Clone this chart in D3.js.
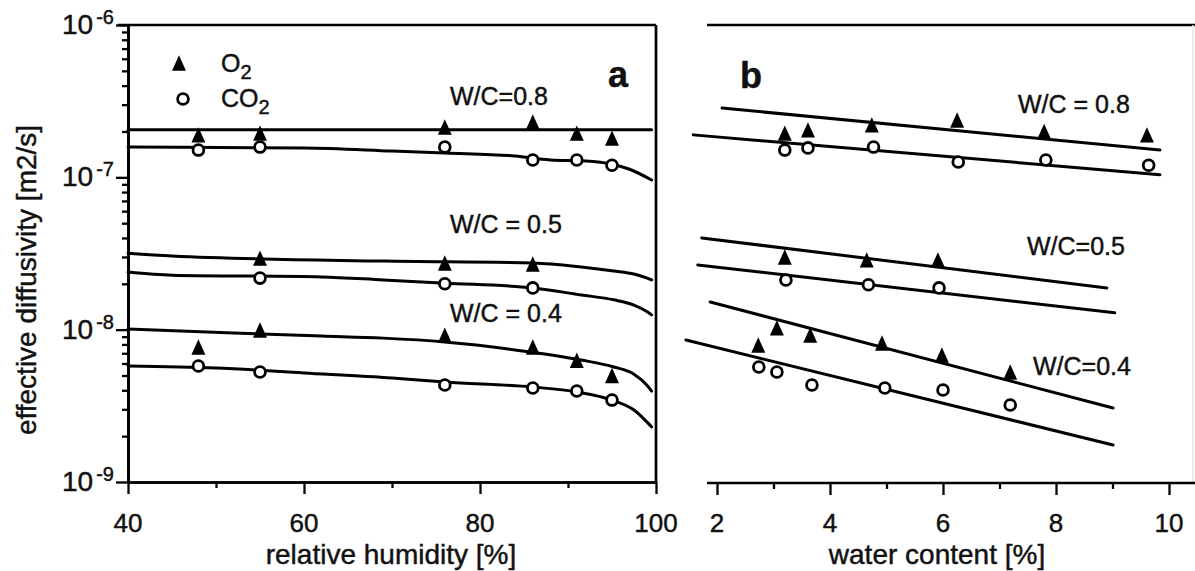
<!DOCTYPE html>
<html>
<head>
<meta charset="utf-8">
<script src="https://cdn.jsdelivr.net/npm/d3@7"></script>
<style>
  html, body { margin: 0; padding: 0; background: #fff; }
  svg { display: block; font-family: "Liberation Sans", Arial, Helvetica, sans-serif; }
  svg text { fill: #111; stroke: #111; stroke-width: 0.45px; }
</style>
</head>
<body>
<svg id="chart" width="1195" height="571"></svg>
<script>
// ---- Panel a: effective diffusivity vs relative humidity [%] ----
const rhTicksMajor = [40, 60, 80, 100];
const rhTicksMinor = [50, 70, 90];
const diffExponents = [-6, -7, -8, -9];

// measured points, panel a
const rhO2_08  = [48, 55, 76, 86, 91, 95];
const dO2_08   = [1.90e-7, 1.95e-7, 2.14e-7, 2.31e-7, 1.95e-7, 1.81e-7];
const rhCO2_08 = [48, 55, 76, 86, 91, 95];
const dCO2_08  = [1.51e-7, 1.58e-7, 1.58e-7, 1.30e-7, 1.30e-7, 1.20e-7];
const rhO2_05  = [55, 76, 86];
const dO2_05   = [2.95e-8, 2.74e-8, 2.70e-8];
const rhCO2_05 = [55, 76, 86];
const dCO2_05  = [2.18e-8, 2.00e-8, 1.88e-8];
const rhO2_04  = [48, 55, 76, 86, 91, 95];
const dO2_04   = [7.7e-9, 9.95e-9, 9.2e-9, 7.7e-9, 6.3e-9, 5.0e-9];
const rhCO2_04 = [48, 55, 76, 86, 91, 95];
const dCO2_04  = [5.77e-9, 5.27e-9, 4.33e-9, 4.14e-9, 3.96e-9, 3.45e-9];

// model curves, panel a
const fitRhO2_08  = [40, 99.5];
const fitDO2_08   = [2.05e-7, 2.05e-7];
const fitRhCO2_08 = [40, 60, 70, 76, 84, 88, 92, 95, 97, 99.5];
const fitDCO2_08  = [1.58e-7, 1.56e-7, 1.49e-7, 1.445e-7, 1.38e-7, 1.30e-7, 1.28e-7, 1.22e-7, 1.13e-7, 9.6e-8];
const fitRhO2_05  = [40, 45, 69, 86, 91.5, 95.2, 97.5, 99, 99.5];
const fitDO2_05   = [3.18e-8, 3.05e-8, 2.82e-8, 2.74e-8, 2.58e-8, 2.43e-8, 2.32e-8, 2.18e-8, 2.12e-8];
const fitRhCO2_05 = [40, 45, 62, 69, 76, 86, 91.5, 95.2, 97.5, 99, 99.5];
const fitDCO2_05  = [2.39e-8, 2.28e-8, 2.22e-8, 2.12e-8, 2.02e-8, 1.88e-8, 1.69e-8, 1.57e-8, 1.45e-8, 1.31e-8, 1.25e-8];
const fitRhO2_04  = [40, 52, 62, 69, 76, 86, 91.5, 95.2, 97.5, 99, 99.5];
const fitDO2_04   = [1.01e-8, 9.5e-9, 9.08e-9, 8.8e-9, 8.3e-9, 7.1e-9, 6.32e-9, 5.69e-9, 5.1e-9, 4.3e-9, 3.95e-9];
const fitRhCO2_04 = [40, 50, 60, 70, 76, 86, 91, 95, 97.5, 99.5];
const fitDCO2_04  = [5.77e-9, 5.6e-9, 5.2e-9, 4.82e-9, 4.53e-9, 4.2e-9, 3.9e-9, 3.45e-9, 2.97e-9, 2.3e-9];

// ---- Panel b: effective diffusivity vs water content [%] ----
const wcTicksMajor = [2, 4, 6, 8, 10];
const wcTicksMinor = [3, 5, 7, 9];

const wcO2_08  = [3.20, 3.61, 4.74, 6.25, 7.79, 9.61];
const bO2_08   = [1.95e-7, 2.05e-7, 2.21e-7, 2.38e-7, 2.00e-7, 1.90e-7];
const wcCO2_08 = [3.20, 3.61, 4.77, 6.27, 7.82, 9.64];
const bCO2_08  = [1.51e-7, 1.56e-7, 1.58e-7, 1.26e-7, 1.30e-7, 1.20e-7];
const wcO2_05  = [3.20, 4.65, 5.91];
const bO2_05   = [3.0e-8, 2.87e-8, 2.87e-8];
const wcCO2_05 = [3.22, 4.68, 5.93];
const bCO2_05  = [2.12e-8, 1.97e-8, 1.88e-8];
const wcO2_04  = [2.73, 3.06, 3.65, 4.92, 5.98, 7.19];
const bO2_04   = [7.93e-9, 1.03e-8, 9.23e-9, 8.17e-9, 6.82e-9, 5.27e-9];
const wcCO2_04 = [2.74, 3.06, 3.68, 4.97, 6.00, 7.19];
const bCO2_04  = [5.69e-9, 5.27e-9, 4.33e-9, 4.14e-9, 4.02e-9, 3.2e-9];

// regression lines, panel b
const fitWcO2_08  = [2.09, 9.84];
const fitBO2_08   = [2.85e-7, 1.51e-7];
const fitWcCO2_08 = [1.58, 9.84];
const fitBCO2_08  = [1.90e-7, 1.04e-7];
const fitWcO2_05  = [1.73, 8.90];
const fitBO2_05   = [4.0e-8, 1.88e-8];
const fitWcCO2_05 = [1.66, 9.04];
const fitBCO2_05  = [2.66e-8, 1.29e-8];
const fitWcO2_04  = [1.88, 9.01];
const fitBO2_04   = [1.52e-8, 3.06e-9];
const fitWcCO2_04 = [1.45, 9.01];
const fitBCO2_04  = [8.55e-9, 1.75e-9];

// ---- drawing ----
const svg = d3.select("#chart");
const zip = (xs, ys) => xs.map((x, i) => [x, ys[i]]);

const yTop = 25, yBot = 482;
const y = d3.scaleLog().domain([1e-9, 1e-6]).range([yBot, yTop]);
const xa = d3.scaleLinear().domain([40, 100]).range([128, 656]);
const xb = d3.scaleLinear().domain([2, 10]).range([717, 1169]);

// filled isosceles triangle marker
const triangleMark = {
  draw(ctx, size) {
    const w = Math.sqrt(size) * 0.95, h = Math.sqrt(size) * 1.05;
    ctx.moveTo(0, -h / 2);
    ctx.lineTo(w / 2, h / 2);
    ctx.lineTo(-w / 2, h / 2);
    ctx.closePath();
  }
};
const triPath = d3.symbol().type(triangleMark).size(215)();

const axisStroke = 2.7;

function styleAxis(g) {
  g.select(".domain").attr("stroke", "#000").attr("stroke-width", axisStroke);
  g.selectAll(".tick line").attr("stroke", "#000").attr("stroke-width", 2.3);
}

// panel a frame
const gA = svg.append("g");
gA.append("line").attr("x1", 118).attr("x2", 656).attr("y1", yTop).attr("y2", yTop)
  .attr("stroke", "#000").attr("stroke-width", axisStroke);
gA.append("line").attr("x1", 656).attr("x2", 656).attr("y1", yTop).attr("y2", yBot)
  .attr("stroke", "#000").attr("stroke-width", axisStroke);

// y axis of panel a: minor and major log ticks
const minorY = [];
[-9, -8, -7].forEach(e => { for (let k = 2; k <= 9; k++) minorY.push(k * Math.pow(10, e)); });
gA.append("g").attr("transform", "translate(128,0)")
  .call(d3.axisLeft(y).tickValues(minorY).tickSize(6).tickSizeOuter(0).tickFormat(""))
  .call(styleAxis);
gA.append("g").attr("transform", "translate(128,0)")
  .call(d3.axisLeft(y).tickValues(diffExponents.map(e => Math.pow(10, e))).tickSize(12).tickSizeOuter(0).tickFormat(""))
  .call(styleAxis);

diffExponents.forEach(e => {
  const t = gA.append("text").attr("x", 114).attr("y", y(Math.pow(10, e)) + 9)
    .attr("text-anchor", "end").attr("font-size", 28);
  t.append("tspan").text("10");
  t.append("tspan").attr("dx", 3).attr("dy", -10).attr("font-size", 20).text("-" + Math.abs(e));
});

// x axis of panel a
gA.append("g").attr("transform", `translate(0,${yBot})`)
  .call(d3.axisBottom(xa).tickValues(rhTicksMinor).tickSize(6).tickSizeOuter(0).tickFormat(""))
  .call(styleAxis);
gA.append("g").attr("transform", `translate(0,${yBot})`)
  .call(d3.axisBottom(xa).tickValues(rhTicksMajor).tickSize(12).tickSizeOuter(0).tickFormat(""))
  .call(styleAxis);
rhTicksMajor.forEach(v => {
  gA.append("text").attr("x", xa(v)).attr("y", 532).attr("text-anchor", "middle")
    .attr("font-size", 26).text(v);
});
gA.append("text").attr("x", 391).attr("y", 564).attr("text-anchor", "middle")
  .attr("font-size", 28).text("relative humidity [%]");

// y-axis title
svg.append("text").attr("transform", "translate(36,280) rotate(-90)")
  .attr("text-anchor", "middle").attr("font-size", 28).text("effective diffusivity [m2/s]");

// panel b frame
const gB = svg.append("g");
gB.append("line").attr("x1", 707).attr("x2", 1195).attr("y1", yTop).attr("y2", yTop)
  .attr("stroke", "#000").attr("stroke-width", axisStroke);
gB.append("line").attr("x1", 1193).attr("x2", 1193).attr("y1", yTop).attr("y2", yBot)
  .attr("stroke", "#e4e4e4").attr("stroke-width", 1.5);
const axB = gB.append("g").attr("transform", `translate(0,${yBot + 1})`);
axB.append("line").attr("x1", 707).attr("x2", 1195).attr("stroke", "#000").attr("stroke-width", axisStroke);
axB.append("g")
  .call(d3.axisBottom(xb).tickValues(wcTicksMinor).tickSize(6).tickSizeOuter(0).tickFormat(""))
  .call(styleAxis).select(".domain").remove();
axB.append("g")
  .call(d3.axisBottom(xb).tickValues(wcTicksMajor).tickSize(12).tickSizeOuter(0).tickFormat(""))
  .call(styleAxis).select(".domain").remove();
wcTicksMajor.forEach(v => {
  gB.append("text").attr("x", xb(v)).attr("y", 532).attr("text-anchor", "middle")
    .attr("font-size", 26).text(v);
});
gB.append("text").attr("x", 937).attr("y", 564).attr("text-anchor", "middle")
  .attr("font-size", 28).text("water content [%]");

// curves and markers
const lineA = d3.line().x(d => xa(d[0])).y(d => y(d[1])).curve(d3.curveMonotoneX);
const lineB = d3.line().x(d => xb(d[0])).y(d => y(d[1]));

function drawCurve(g, gen, xs, ys) {
  g.append("path").datum(zip(xs, ys)).attr("d", gen)
    .attr("fill", "none").attr("stroke", "#000").attr("stroke-width", 3)
    .attr("stroke-linejoin", "round").attr("stroke-linecap", "round");
}
function drawTriangles(g, sx, xs, ys) {
  g.selectAll(null).data(zip(xs, ys)).join("path")
    .attr("transform", d => `translate(${sx(d[0])},${y(d[1])})`)
    .attr("d", triPath).attr("fill", "#000");
}
function drawCircles(g, sx, xs, ys) {
  g.selectAll(null).data(zip(xs, ys)).join("circle")
    .attr("cx", d => sx(d[0])).attr("cy", d => y(d[1])).attr("r", 5.4)
    .attr("fill", "#fff").attr("stroke", "#000").attr("stroke-width", 2.8);
}

drawCurve(gA, lineA, fitRhO2_08, fitDO2_08);
drawCurve(gA, lineA, fitRhCO2_08, fitDCO2_08);
drawCurve(gA, lineA, fitRhO2_05, fitDO2_05);
drawCurve(gA, lineA, fitRhCO2_05, fitDCO2_05);
drawCurve(gA, lineA, fitRhO2_04, fitDO2_04);
drawCurve(gA, lineA, fitRhCO2_04, fitDCO2_04);
drawTriangles(gA, xa, rhO2_08, dO2_08);
drawCircles(gA, xa, rhCO2_08, dCO2_08);
drawTriangles(gA, xa, rhO2_05, dO2_05);
drawCircles(gA, xa, rhCO2_05, dCO2_05);
drawTriangles(gA, xa, rhO2_04, dO2_04);
drawCircles(gA, xa, rhCO2_04, dCO2_04);

drawCurve(gB, lineB, fitWcO2_08, fitBO2_08);
drawCurve(gB, lineB, fitWcCO2_08, fitBCO2_08);
drawCurve(gB, lineB, fitWcO2_05, fitBO2_05);
drawCurve(gB, lineB, fitWcCO2_05, fitBCO2_05);
drawCurve(gB, lineB, fitWcO2_04, fitBO2_04);
drawCurve(gB, lineB, fitWcCO2_04, fitBCO2_04);
drawTriangles(gB, xb, wcO2_08, bO2_08);
drawCircles(gB, xb, wcCO2_08, bCO2_08);
drawTriangles(gB, xb, wcO2_05, bO2_05);
drawCircles(gB, xb, wcCO2_05, bCO2_05);
drawTriangles(gB, xb, wcO2_04, bO2_04);
drawCircles(gB, xb, wcCO2_04, bCO2_04);

// legend
gA.append("path").attr("transform", "translate(179,63)").attr("d", triPath).attr("fill", "#000");
gA.append("circle").attr("cx", 183).attr("cy", 99).attr("r", 5.4)
  .attr("fill", "#fff").attr("stroke", "#000").attr("stroke-width", 2.8);
function chemLabel(g, x, yy, base) {
  const t = g.append("text").attr("x", x).attr("y", yy).attr("font-size", 25);
  t.append("tspan").text(base);
  t.append("tspan").attr("dy", 7).attr("font-size", 20).text("2");
}
chemLabel(gA, 221, 72, "O");
chemLabel(gA, 221, 107, "CO");

// panel letters
svg.append("text").attr("x", 608).attr("y", 87).attr("font-size", 36).attr("font-weight", "bold").text("a");
svg.append("text").attr("x", 740).attr("y", 88).attr("font-size", 36).attr("font-weight", "bold").text("b");

// W/C annotations
const wcLabels = [
  { x: 450, y: 105, t: "W/C=0.8" },
  { x: 450, y: 233, t: "W/C = 0.5" },
  { x: 450, y: 322, t: "W/C = 0.4" },
  { x: 1018, y: 113, t: "W/C = 0.8" },
  { x: 1027, y: 255, t: "W/C=0.5" },
  { x: 1033, y: 375, t: "W/C=0.4" }
];
svg.selectAll(null).data(wcLabels).join("text")
  .attr("x", d => d.x).attr("y", d => d.y).attr("font-size", 25).text(d => d.t);
</script>
</body>
</html>
